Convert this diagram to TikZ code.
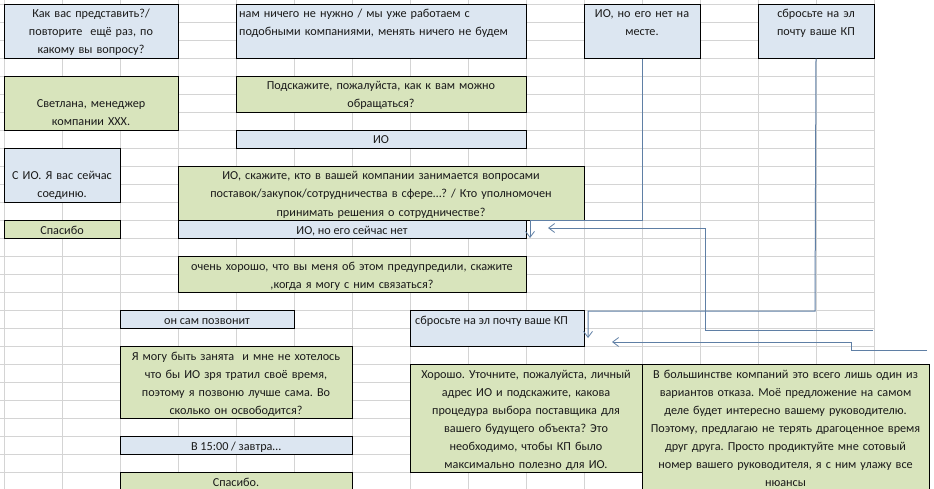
\documentclass[tikz,border=0pt]{standalone}
\usepackage{fontspec}
\setmainfont{Carlito}
\usetikzlibrary{arrows.meta}
\definecolor{cellblue}{HTML}{DCE6F1}
\definecolor{cellgreen}{HTML}{D8E4BC}
\definecolor{gridc}{HTML}{D4D4D4}
\definecolor{connc}{HTML}{5F7FA5}
\definecolor{txtc}{HTML}{1A1A1A}
\tikzset{
  cellbox/.style={draw=black, line width=0.9pt, anchor=north west, inner sep=0pt, outer sep=0pt},
  bluebox/.style={cellbox, fill=cellblue},
  greenbox/.style={cellbox, fill=cellgreen},
  txt/.style={anchor=base, inner sep=0pt, align=center, text=txtc, font=\fontsize{12.2}{18}\selectfont},
  ltxt/.style={anchor=base west, inner sep=0pt, align=left, text=txtc, font=\fontsize{12.2}{18}\selectfont},
  conn/.style={draw=connc, line width=1pt},
  tipd/.style={-{Straight Barb[length=6pt,width=9pt,line width=0.8pt]}},
}
\frenchspacing
\begin{document}
\frenchspacing
\begin{tikzpicture}[x=1pt,y=-1pt]
\useasboundingbox (0,0) rectangle (934,489);
\clip (0,0) rectangle (934,489);
\fill[white] (0,0) rectangle (934,489);
% grid
\foreach \k in {0,...,15} \draw[gridc, line width=0.7pt] ({4+58*\k},0) -- ({4+58*\k},489);
\foreach \k in {0,...,27} \draw[gridc, line width=0.7pt] (0,{4.7+18*\k}) -- (874,{4.7+18*\k});

% boxes
\node[bluebox, minimum width=174, minimum height=54] (b1) at (4,4.7) {};
\node[txt, text width=174] (t1) at (91,18) {Как вас представить?/\\повторите\ \ ещё раз, по\\какому вы вопросу?};

\node[bluebox, minimum width=290, minimum height=54] (b2) at (236,4.7) {};
\node[ltxt, text width=290] (t2) at (239,18) {нам ничего не нужно / мы уже работаем с\\подобными компаниями, менять ничего не будем};

\node[bluebox, minimum width=116, minimum height=54] (b3) at (584,4.7) {};
\node[txt, text width=116] (t3) at (642,18) {ИО, но его нет на\\месте.};

\node[bluebox, minimum width=116, minimum height=54] (b4) at (758,4.7) {};
\node[txt, text width=116] (t4) at (816,18) {сбросьте на эл\\почту ваше КП};

\node[greenbox, minimum width=174, minimum height=54] (b5) at (4,76.7) {};
\node[txt, text width=174] (t5) at (91,108) {Светлана, менеджер\\компании ХХХ.};

\node[greenbox, minimum width=290, minimum height=36] (b6) at (236,76.7) {};
\node[txt, text width=290] (t6) at (381,90) {Подскажите, пожалуйста, как к вам можно\\обращаться?};

\node[bluebox, minimum width=290, minimum height=18] (b7) at (236,130.7) {};
\node[txt] (t7) at (381,144) {ИО};

\node[bluebox, minimum width=116, minimum height=54] (b8) at (4,148.7) {};
\node[txt, text width=116] (t8) at (62,180) {С ИО. Я вас сейчас\\соединю.};

\node[greenbox, minimum width=116, minimum height=18] (b9) at (4,220.7) {};
\node[txt] (t9) at (62,234) {Спасибо};

\node[greenbox, minimum width=406, minimum height=54] (b10) at (178,166.7) {};
\node[txt, text width=406] (t10) at (381,180) {ИО, скажите, кто в вашей компании занимается вопросами\\поставок/закупок/сотрудничества в сфере…? / Кто уполномочен\\принимать решения о сотрудничестве?};

\node[bluebox, minimum width=348, minimum height=18] (b11) at (178,220.7) {};
\node[txt] (t11) at (352,234) {ИО, но его сейчас нет};

\node[greenbox, minimum width=348, minimum height=36] (b12) at (178,256.7) {};
\node[txt, text width=348] (t12) at (352,270) {очень хорошо, что вы меня об этом предупредили, скажите\\,когда я могу с ним связаться?};

\node[bluebox, minimum width=174, minimum height=18] (b13) at (120,310.7) {};
\node[txt] (t13) at (207,324) {он сам позвонит};

\node[bluebox, minimum width=174, minimum height=36] (b14) at (410,310.7) {};
\node[ltxt] (t14) at (415,324) {сбросьте на эл почту ваше КП};

\node[greenbox, minimum width=232, minimum height=72] (b15) at (120,346.7) {};
\node[txt, text width=232] (t15) at (236,360) {Я могу быть занята\ \ и мне не хотелось\\что бы ИО зря тратил своё время,\\поэтому я позвоню лучше сама. Во\\сколько он освободится?};

\node[bluebox, minimum width=232, minimum height=18] (b16) at (120,436.7) {};
\node[txt] (t16) at (236,450) {В 15:00 / завтра…};

\node[greenbox, minimum width=232, minimum height=24] (b17) at (120,472.7) {};
\node[txt] (t17) at (236,486) {Спасибо.};

\node[greenbox, minimum width=232, minimum height=108] (b18) at (410,364.7) {};
\node[txt, text width=232] (t18) at (526,378) {Хорошо. Уточните, пожалуйста, личный\\адрес ИО и подскажите, какова\\процедура выбора поставщика для\\вашего будущего объекта? Это\\необходимо, чтобы КП было\\максимально полезно для ИО.};

\node[greenbox, minimum width=287, minimum height=140] (b19) at (642,364.7) {};
\node[txt, text width=287] (t19) at (785.5,378) {В большинстве компаний это всего лишь один из\\вариантов отказа. Моё предложение на самом\\деле будет интересно вашему руководителю.\\Поэтому, предлагаю не терять драгоценное время\\друг друга. Просто продиктуйте мне сотовый\\номер вашего руководителя, я с ним улажу все\\нюансы};

% connectors
\coordinate (a1) at (642,221);
\coordinate (a2) at (530,221);
\coordinate (aT) at (530,238);
\draw[conn, tipd] (b3.south) -- (a1) -- (a2) -- (aT);

\coordinate (c1) at (815,311);
\coordinate (c2) at (588,311);
\coordinate (cT) at (588,338);
\draw[conn, tipd] (b4.south) -- (c1) -- (c2) -- (cT);

\coordinate (d0) at (873,330);
\coordinate (d1) at (705,330);
\coordinate (d2) at (705,228);
\coordinate (dT) at (548,228);
\draw[conn, tipd] (d0) -- (d1) -- (d2) -- (dT);

\coordinate (e0) at (927,350);
\coordinate (e1) at (851,350);
\coordinate (e2) at (851,342);
\coordinate (eT) at (612,342);
\draw[conn, tipd] (e0) -- (e1) -- (e2) -- (eT);
\end{tikzpicture}
\end{document}
